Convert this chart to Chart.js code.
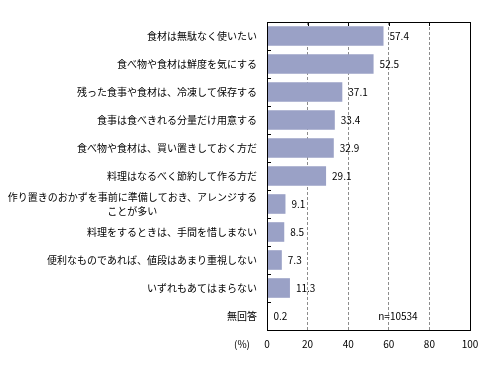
<!DOCTYPE html>
<html>
<head>
<meta charset="utf-8">
<script src="https://cdn.jsdelivr.net/npm/chart.js@4/dist/chart.umd.min.js"></script>
<style>
  body { margin: 0; background: #fff; }
  #wrap { width: 501px; height: 390px; }
</style>
</head>
<body>
<div id="wrap"><canvas id="bars" width="501" height="390"></canvas></div>
<script>
const categories = [
  ["食材は無駄なく使いたい"],
  ["食べ物や食材は鮮度を気にする"],
  ["残った食事や食材は、冷凍して保存する"],
  ["食事は食べきれる分量だけ用意する"],
  ["食べ物や食材は、買い置きしておく方だ"],
  ["料理はなるべく節約して作る方だ"],
  ["作り置きのおかずを事前に準備しておき、アレンジする", "ことが多い"],
  ["料理をするときは、手間を惜しまない"],
  ["便利なものであれば、値段はあまり重視しない"],
  ["いずれもあてはまらない"],
  ["無回答"]
];
const values = [57.4, 52.5, 37.1, 33.4, 32.9, 29.1, 9.1, 8.5, 7.3, 11.3, 0.2];
const xTicks = [0, 20, 40, 60, 80, 100];
const sampleNote = "n=10534";
const unitNote = "(%)";

const font = '10px "Noto Sans CJK JP", sans-serif';

const decorations = {
  id: "decorations",
  afterDraw(chart) {
    const ctx = chart.ctx;
    const area = chart.chartArea;
    const x = chart.scales.x;
    const y = chart.scales.y;
    ctx.save();
    ctx.strokeStyle = "#000";
    ctx.lineWidth = 1;
    ctx.strokeRect(Math.round(area.left) + 0.5, Math.round(area.top) + 0.5,
      Math.round(area.right - area.left), Math.round(area.bottom - area.top));

    // small ticks on the left edge between categories
    ctx.beginPath();
    for (let i = 1; i < categories.length; i++) {
      const yy = Math.round((y.getPixelForValue(i - 1) + y.getPixelForValue(i)) / 2) + 0.5;
      ctx.moveTo(area.left, yy);
      ctx.lineTo(area.left + 4, yy);
    }
    // small ticks on the top edge
    xTicks.slice(1, -1).forEach(v => {
      const xx = Math.round(x.getPixelForValue(v)) + 0.5;
      ctx.moveTo(xx, area.top);
      ctx.lineTo(xx, area.top + 4);
    });
    ctx.stroke();

    ctx.font = font;
    ctx.fillStyle = "#000";
    ctx.textBaseline = "middle";

    // value labels
    ctx.textAlign = "left";
    values.forEach((v, i) => {
      ctx.fillText(v.toFixed(1), x.getPixelForValue(v) + 6, y.getPixelForValue(i));
    });

    // category labels
    const right = area.left - 10;
    categories.forEach((lines, i) => {
      const cy = y.getPixelForValue(i);
      if (lines.length === 1) {
        ctx.textAlign = "right";
        ctx.fillText(lines[0], right, cy);
      } else {
        const w = ctx.measureText(lines[0]).width;
        ctx.textAlign = "right";
        ctx.fillText(lines[0], right, cy - 7);
        ctx.textAlign = "center";
        ctx.fillText(lines[1], right - w / 2, cy + 7);
      }
    });

    ctx.textAlign = "center";
    ctx.fillText(sampleNote, x.getPixelForValue(64.5), y.getPixelForValue(categories.length - 1));
    ctx.textAlign = "right";
    ctx.fillText(unitNote, area.left - 17, area.bottom + 14);
    ctx.restore();
  }
};

new Chart(document.getElementById("bars"), {
  type: "bar",
  data: {
    labels: categories,
    datasets: [{
      data: values,
      backgroundColor: "#9aa1c6",
      borderWidth: 0,
      barPercentage: 0.7,
      categoryPercentage: 1
    }]
  },
  options: {
    indexAxis: "y",
    responsive: false,
    animation: false,
    layout: { padding: { left: 267, right: 31, top: 22, bottom: 32 } },
    plugins: { legend: { display: false }, tooltip: { enabled: false } },
    scales: {
      x: {
        min: 0,
        max: 100,
        afterBuildTicks: axis => { axis.ticks = xTicks.map(v => ({ value: v })); },
        border: { display: false, dash: [3, 2] },
        grid: {
          drawTicks: false,
          color: c => (c.tick && (c.tick.value === 0 || c.tick.value === 100)) ? "rgba(0,0,0,0)" : "#8c8c8c"
        },
        ticks: { padding: 8, color: "#000", font: { family: '"Noto Sans CJK JP", sans-serif', size: 10 } }
      },
      y: {
        display: false
      }
    }
  },
  plugins: [decorations]
});
</script>
</body>
</html>
